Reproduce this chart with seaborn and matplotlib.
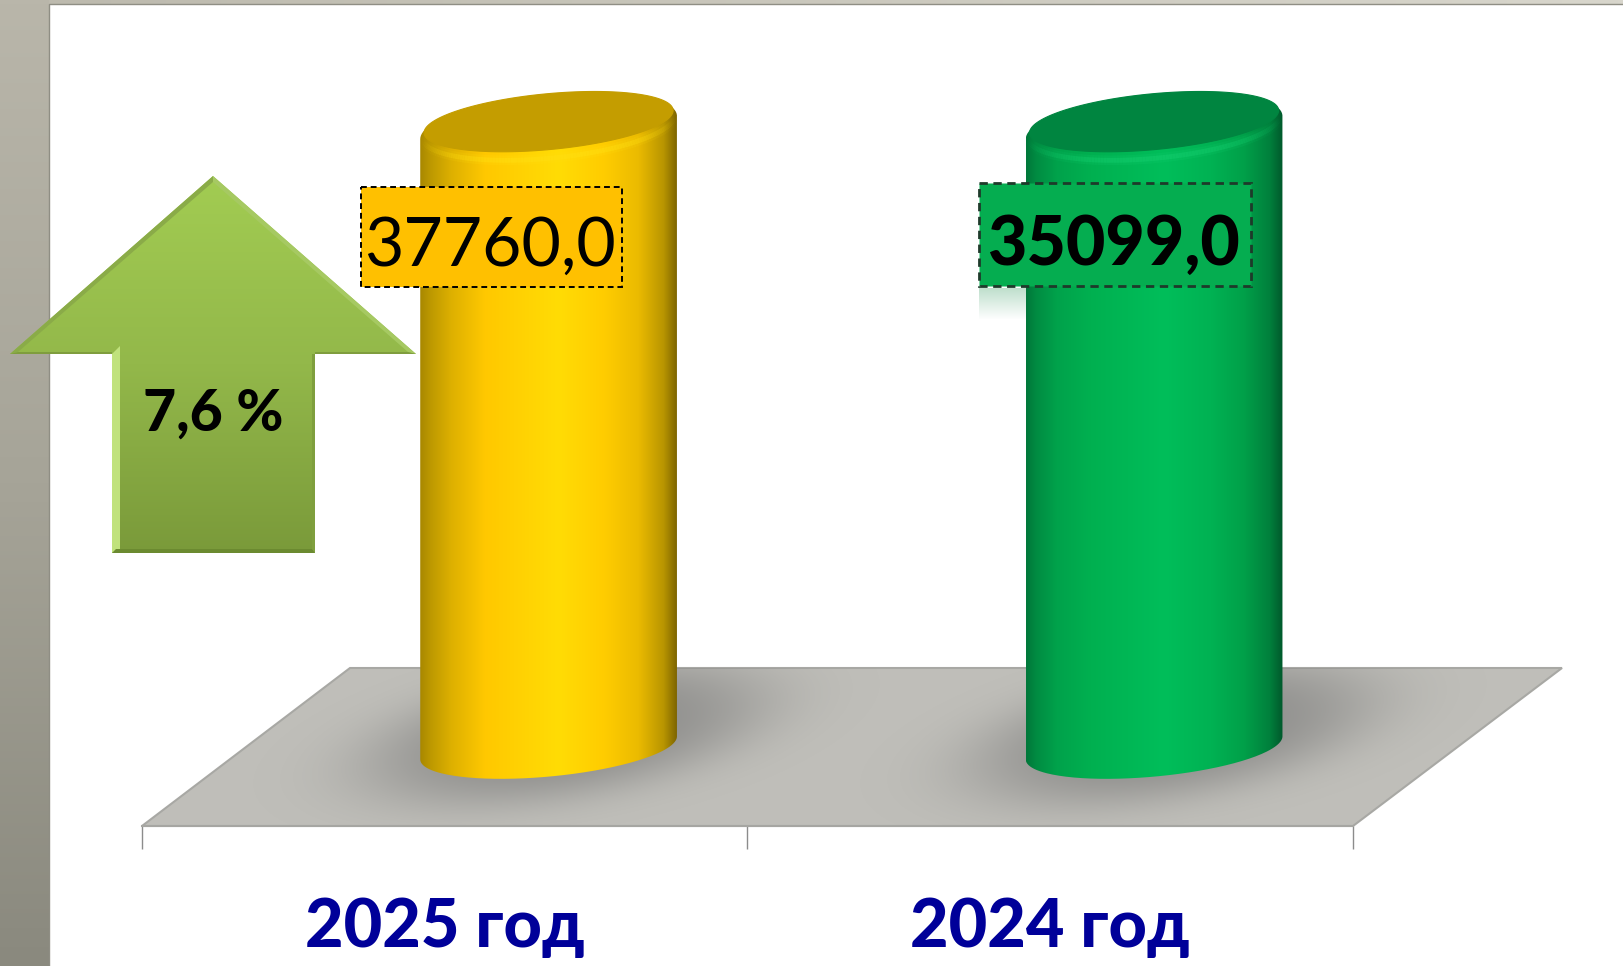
import numpy as np
import pandas as pd
import matplotlib
matplotlib.use("Agg")
import matplotlib.pyplot as plt
import seaborn as sns
from matplotlib.collections import LineCollection
from matplotlib.colors import LinearSegmentedColormap, to_rgb
from matplotlib.patches import Polygon, Rectangle
from matplotlib.path import Path

# ---- chart content ----
years = ["2025 год", "2024 год"]
column_levels = [100, 100]          # both columns are drawn equally tall in the reference
value_labels = ["37760,0", "35099,0"]
growth_label = "7,6 %"

base_colors = ["#FFC800", "#00B050"]
cap_colors = ["#C49D00", "#008540"]
rim_colors = ["#FFDE10", "#12CC6C"]
box_colors = ["#FFC000", "#05AD50"]
yellow_stops = [(0, "#A88800"), (0.04, "#BD9900"), (0.12, "#DDB000"), (0.25, "#FFC800"), (0.54, "#FFDC05"),
                (0.72, "#FFCC00"), (0.85, "#EBBB00"), (0.95, "#B89500"), (1, "#7F6600")]
green_stops = [(0, "#00783A"), (0.04, "#008C42"), (0.12, "#00A24B"), (0.25, "#00B050"), (0.54, "#00BE5A"),
               (0.72, "#00B253"), (0.85, "#00A049"), (0.95, "#00803C"), (1, "#005A2C")]

W, H = 1624, 966
AXIS_RIGHT = 1353
sns.set_theme(style="white")
plt.rcParams["font.family"] = ["Lato", "DejaVu Sans"]

fig = plt.figure(figsize=(W / 100, H / 100), dpi=100, facecolor="white")


def pixel_axes(z):
    a = fig.add_axes([0, 0, 1, 1], zorder=z)
    a.set_xlim(0, W)
    a.set_ylim(H, 0)
    a.axis("off")
    a.patch.set_alpha(0)
    return a


# ---- backdrop: slide frame, floor, shadows ----
bg = pixel_axes(0)
frame = LinearSegmentedColormap.from_list("frame", ["#B9B6AA", "#A6A498", "#8A897E"])
bg.imshow(np.linspace(0, 1, 256)[:, None], cmap=frame, extent=(0, 49, H, 0), aspect="auto", zorder=1)
top_strip = LinearSegmentedColormap.from_list("strip", ["#BDBAAE", "#D8D6CC"])
bg.imshow(np.linspace(0, 1, 256)[None, :], cmap=top_strip, extent=(49, W, 4, 0), aspect="auto", zorder=1)
bg.plot([49, 49, W], [H, 4, 4], color="#8F8E84", lw=1, zorder=2)

floor_xy = [(142, 826), (AXIS_RIGHT, 826), (1562, 668), (350, 668)]
floor = Polygon(floor_xy, closed=True, facecolor="#BFBEB9", edgecolor="#A8A8A4", lw=1.5, zorder=2)
bg.add_patch(floor)

gy, gx = np.mgrid[660:830, 130:1570]
alpha = np.zeros(gx.shape)
for cx in (566, 1173):
    u = (gx - cx) / 200.0
    v = (gy - 733 + 0.16 * (gx - cx)) / 64.0
    alpha = np.maximum(alpha, 0.6 * np.exp(-(u ** 2 + v ** 2) ** 1.8))
shadow = np.zeros(gx.shape + (4,))
shadow[..., :3] = 0.44
shadow[..., 3] = alpha
sh = bg.imshow(shadow, extent=(130, 1570, 830, 660), aspect="auto", zorder=3, interpolation="bilinear")
sh.set_clip_path(floor)

fade = np.ones((32, 1, 4))
fade[..., :3] = to_rgb("#7FBF9A")
fade[..., 3] = np.linspace(0.5, 0, 32)[:, None]
bg.imshow(fade, extent=(979, 1030, 320, 288), aspect="auto", zorder=2)
bg.set_xlim(0, W)
bg.set_ylim(H, 0)

# ---- main chart: seaborn columns on category axis ----
ax = fig.add_axes([142 / W, 1 - 826 / H, (AXIS_RIGHT - 142) / W, (826 - 60) / H], zorder=1)
ax.patch.set_alpha(0)
df = pd.DataFrame({"year": years, "level": column_levels})
sns.barplot(data=df, x="year", y="level", hue="year", order=years, hue_order=years,
            palette=base_colors, width=0.424, legend=False, saturation=1, ax=ax)
xlim = (-0.5, 1.5)
ylim = (0, 122.56)
depth_dx, depth_dy = 0.1715, 12.5      # 3-D offset of a column from its category slot
tilt = 1.84                            # rise of the ellipse across the column
base_minor = 4.6                       # half height of the foot ellipse
top_minor = 5.4                        # half height of the head ellipse
top_drop = 0.75                        # head ellipse sits slightly below the bar's top

t_front = np.linspace(np.pi, 2 * np.pi, 120)
t_back = np.linspace(0, np.pi, 120)
t_all = np.linspace(0, 2 * np.pi, 240)

for patch, stops, cap, rim in zip(ax.patches, [yellow_stops, green_stops], cap_colors, rim_colors):
    patch.set_x(patch.get_x() + depth_dx)
    patch.set_y(depth_dy)
    patch.set_edgecolor("none")
    x0, w = patch.get_x(), patch.get_width()
    y0, h = patch.get_y(), patch.get_height()
    a = w / 2
    c = x0 + a
    y_top = y0 + h - top_drop

    def ell(t, cy, minor, ka=1.0):
        return np.column_stack([c + ka * a * np.cos(t),
                                cy + ka * tilt * np.cos(t) + minor * np.sin(t)])

    outline = np.vstack([ell(t_front, y0, base_minor), ell(t_back, y_top, top_minor)])
    clip = Path(np.vstack([outline, outline[:1]]))
    patch.set_visible(False)
    cmap = LinearSegmentedColormap.from_list("cyl", stops)
    im = ax.imshow(np.linspace(0, 1, 512)[None, :], cmap=cmap, aspect="auto", zorder=3,
                   extent=(x0, x0 + w, y0 - 2 * base_minor, y0 + h + 2 * top_minor), interpolation="bilinear")
    im.set_clip_path(clip, ax.transData)

    # soft bright rim below the cap, strongest in the middle and gone at the ends
    rim_pts = ell(t_front, y_top + 0.2, top_minor * 0.95, 0.985)
    segs = np.stack([rim_pts[:-1], rim_pts[1:]], axis=1)
    fade_rim = np.sin(np.linspace(0, np.pi, len(segs))) ** 1.5
    for lw, strength in ((7, 0.22), (3.5, 0.55)):
        rgba = np.tile(to_rgb(rim) + (0.0,), (len(segs), 1))
        rgba[:, 3] = strength * fade_rim
        ax.add_collection(LineCollection(segs, colors=rgba, linewidths=lw, zorder=4, capstyle="butt"),
                          autolim=False)
    cap_poly = Polygon(ell(t_all, y_top + 0.95, top_minor * 0.83, 0.97), closed=True, facecolor=cap,
                       edgecolor=cap, lw=0.8, zorder=5)
    ax.add_patch(cap_poly)

ax.set_xlim(*xlim)
ax.set_ylim(*ylim)
for s in ("top", "left", "right"):
    ax.spines[s].set_visible(False)
ax.spines["bottom"].set_color("#A6A6A2")
ax.spines["bottom"].set_linewidth(1.5)
ax.set_xlabel("")
ax.set_ylabel("")
ax.set_yticks([])
ax.set_xticks([-0.5, 0.5, 1.5])
ax.set_xticklabels([])
ax.set_xticks([0, 1], minor=True)
ax.set_xticklabels(years, minor=True, fontsize=48, fontweight=900, color="#000099")
ax.tick_params(axis="x", which="major", length=16.5, width=1, color="#8C8C8C", bottom=True)
ax.tick_params(axis="x", which="minor", length=0, pad=51, bottom=False)
ax.grid(False)

# ---- overlay: data-label boxes and growth arrow ----
top = pixel_axes(2)
box_geom = [(361, 187, 261, 100), (979, 183, 272, 103)]
weights = [400, 900]
edges = ["#000000", "#1E3A2A"]
line_w = [1.4, 2.0]
text_drop = [10, 11]
for (bx, by, bw, bh), col, lab, wt, ec, lw, td in zip(box_geom, box_colors, value_labels, weights, edges, line_w, text_drop):
    top.add_patch(Rectangle((bx, by), bw, bh, facecolor=col, edgecolor=ec, lw=lw,
                            linestyle=(0, (3, 2)), zorder=6))
    top.text(bx + bw / 2 - 2, by + bh / 2 + td, lab, ha="center", va="center", fontsize=49,
             fontweight=wt, color="black", zorder=7)

arrow_xy = np.array([(213, 176), (416, 354), (315, 354), (315, 553), (112, 553), (112, 354), (10, 354)])
arrow_cmap = LinearSegmentedColormap.from_list("arrow", ["#A2CC52", "#93B84A", "#7A9A3A"])
arrow_im = top.imshow(np.linspace(0, 1, 256)[:, None], cmap=arrow_cmap, extent=(10, 416, 553, 176),
                      aspect="auto", zorder=3)
arrow_im.set_clip_path(Polygon(arrow_xy, closed=True, transform=top.transData))
bevels = [
    ([(112, 354), (120, 346), (120, 549), (112, 553)], "#C0E27C"),
    ([(112, 553), (116, 549), (312, 549), (315, 553)], "#6B8A30"),
    ([(315, 553), (312, 549), (312, 354), (315, 354)], "#7F9F3E"),
    ([(213, 176), (213, 182), (18, 352), (10, 354)], "#8AAB48"),
    ([(213, 176), (416, 354), (408, 352), (213, 182)], "#A6C962"),
    ([(10, 354), (18, 352), (112, 352), (112, 354)], "#7F9D3E"),
    ([(315, 354), (315, 352), (408, 352), (416, 354)], "#7F9D3E"),
]
for pts, col in bevels:
    top.add_patch(Polygon(pts, closed=True, facecolor=col, edgecolor="none", zorder=4))
top.text(213, 414, growth_label, ha="center", va="center", fontsize=41, fontweight=900,
         color="black", zorder=7)
top.set_xlim(0, W)
top.set_ylim(H, 0)

fig.savefig("out.png", dpi=100)
